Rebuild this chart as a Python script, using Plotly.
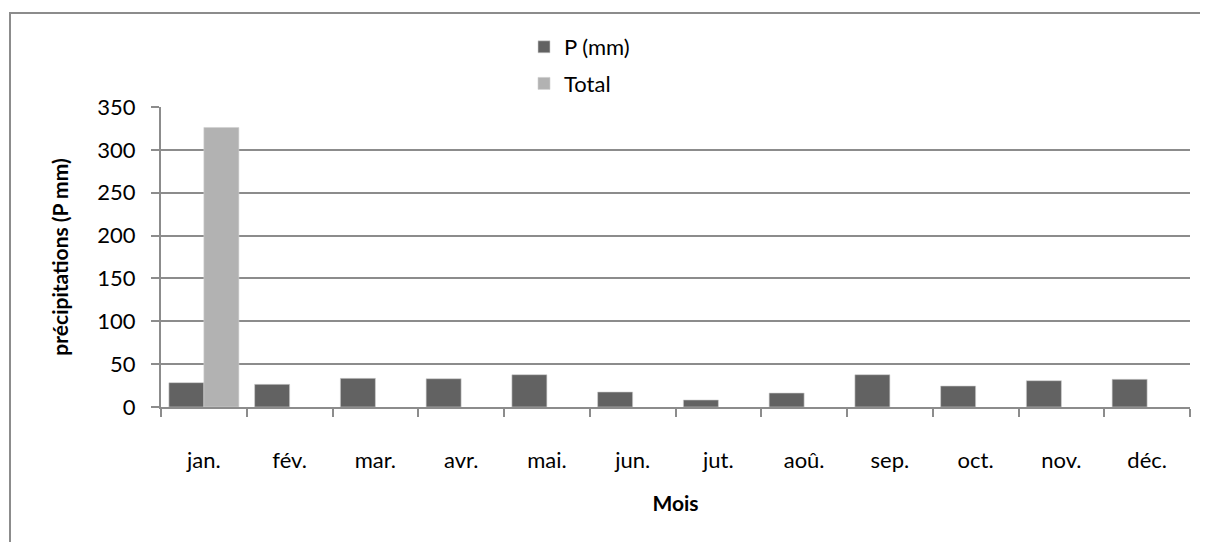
import plotly.graph_objects as go

months = ["jan.", "fév.", "mar.", "avr.", "mai.", "jun.", "jut.", "aoû.", "sep.", "oct.", "nov.", "déc."]
p_mm = [28.4, 26.4, 33.4, 33.0, 37.7, 17.5, 8.2, 16.3, 37.7, 24.5, 30.7, 32.3]
total = [326.1, None, None, None, None, None, None, None, None, None, None, None]
y_ticks = [0, 50, 100, 150, 200, 250, 300, 350]

FONT = "Lato, Calibri, Carlito, sans-serif"
GRID = "#8c8c8c"

# page body margin of the html page shifts the figure by 8px
OFF = 8
W, H = 1208 - OFF, 542 - OFF
L, R, T, B = 161 - OFF, 18, 107 - OFF, 135
pw, ph = W - L - R, H - T - B
X0 = 161  # screen x of plot left
Y0 = 407  # screen y of plot bottom

fig = go.Figure()
fig.add_trace(go.Bar(x=months, y=p_mm, name="P (mm)", legendgroup="p",
                     marker=dict(color="#626262", line=dict(color="#d0d0d0", width=0.6))))
fig.add_trace(go.Bar(x=months, y=total, name="Total", legendgroup="t",
                     marker=dict(color="#b2b2b2", line=dict(color="#d0d0d0", width=0.6))))

fig.update_layout(
    width=W, height=H,
    margin=dict(l=L, r=R, t=T, b=B),
    paper_bgcolor="white", plot_bgcolor="white",
    barmode="group", bargap=0.184, bargroupgap=0,
    font=dict(family=FONT, size=22, color="#000000"),
    legend=dict(x=(524 - X0) / pw, y=(Y0 - 26) / ph, xanchor="left", yanchor="top",
                font=dict(size=22), bgcolor="rgba(0,0,0,0)", tracegroupgap=5,
                traceorder="grouped"),
    xaxis=dict(
        showline=True, linecolor=GRID, linewidth=2,
        ticks="outside", ticklen=8, tickcolor=GRID, tickwidth=2, tickson="boundaries",
        ticklabelstandoff=33,
        title=dict(text="<b>Mois</b>", font=dict(size=21), standoff=24),
        showgrid=False,
    ),
    yaxis=dict(
        range=[0, 350], tickvals=y_ticks,
        showline=True, linecolor=GRID, linewidth=2,
        ticks="outside", ticklen=8, tickcolor=GRID, tickwidth=2,
        ticklabelstandoff=11,
        showgrid=True, gridcolor=GRID, gridwidth=2,
        zeroline=False,
        title=dict(text="<b>précipitations (P mm)</b>", font=dict(size=21), standoff=23),
    ),
    shapes=[dict(type="rect", xref="paper", yref="paper",
                 x0=(10 - X0) / pw, x1=2.0,
                 y0=-1.0, y1=(Y0 - 13) / ph,
                 line=dict(color="#8c8c8c", width=2), layer="below")],
)

fig.write_html("out.html", config={"displayModeBar": False})
